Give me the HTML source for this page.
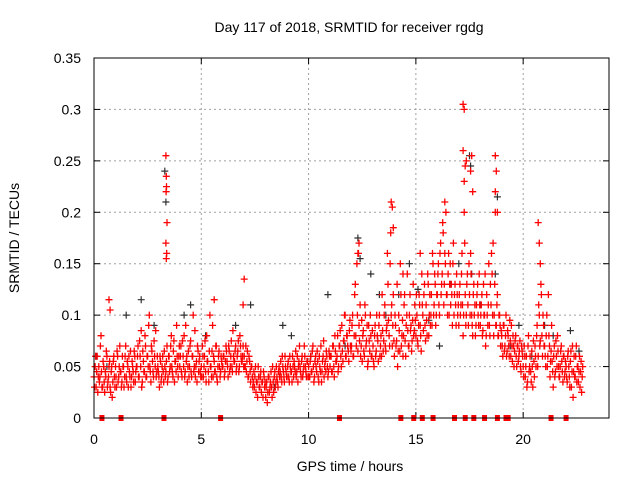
<!DOCTYPE html>
<html><head><meta charset="utf-8"><style>
html,body{margin:0;padding:0;background:#fff}
svg{display:block;font-family:"Liberation Sans",sans-serif}
</style></head><body>
<svg id="chart" width="640" height="480" xmlns="http://www.w3.org/2000/svg">
<rect x="0" y="0" width="640" height="480" fill="#fff"/>
<text x="349" y="32" font-size="14" text-anchor="middle">Day 117 of 2018, SRMTID for receiver rgdg</text>
<text x="350" y="471" font-size="14" text-anchor="middle">GPS time / hours</text>
<text x="0" y="0" font-size="14" text-anchor="middle" transform="translate(19,238) rotate(-90)">SRMTID / TECUs</text>
<g id="grid"></g>
<g id="ticks"></g>
<g id="marks"></g>
<rect x="94" y="58" width="515" height="360" fill="none" stroke="#000" stroke-width="1"/>
</svg>
<script>
const xTicks=[0,5,10,15,20];
const yTicks=[0,0.05,0.1,0.15,0.2,0.25,0.3,0.35];
const yTickLabels=["0","0.05","0.1","0.15","0.2","0.25","0.3","0.35"];
const seriesStart=0, seriesStep=0.05;
const redA=[
.04,.05,.03,.06,.04,.035,.07,.045,.03,.05,.025,.04,.06,.035,.05,.03,.045,.02,.055,.04,
.05,.03,.06,.04,.07,.045,.035,.05,.03,.06,.04,.055,.03,.045,.065,.04,.05,.035,.06,.045,
.05,.07,.04,.06,.085,.035,.055,.045,.07,.04,.06,.09,.05,.035,.065,.045,.075,.05,.04,.06,
.045,.03,.055,.04,.06,.035,.05,.045,.07,.04,.06,.05,.08,.045,.065,.035,.055,.09,.05,.06,
.05,.07,.04,.06,.08,.045,.055,.035,.065,.05,.075,.04,.06,.045,.085,.05,.035,.065,.055,.045,
.05,.07,.04,.06,.045,.08,.055,.035,.1,.05,.065,.04,.055,.045,.07,.035,.06,.05,.045,.055,
.05,.06,.045,.07,.055,.04,.065,.05,.075,.045,.06,.055,.07,.05,.065,.045,.08,.06,.055,.07,
.06,.05,.045,.065,.04,.055,.035,.05,.03,.045,.04,.025,.035,.05,.03,.04,.025,.035,.045,.03,
.02,.035,.025,.04,.03,.045,.02,.035,.04,.03,.05,.035,.045,.04,.055,.035,.05,.04,.06,.045,
.04,.055,.035,.05,.045,.06,.04,.05,.065,.045,.035,.055,.05,.04,.06,.045,.07,.05,.04,.055,
.05,.04,.06,.045,.07,.035,.055,.05,.065,.04,.06,.045,.035,.055,.075,.05,.045,.06,.04,.065,
.05,.06,.045,.07,.04,.065,.055,.08,.05,.07,.06,.09,.055,.075,.1,.06,.08,.065,.085,.07,
.07,.1,.06,.12,.08,.15,.065,.09,.11,.07,.055,.085,.06,.1,.075,.05,.09,.065,.08,.06,
.07,.05,.09,.065,.08,.055,.1,.07,.06,.085,.075,.11,.065,.09,.13,.08,.15,.1,.07,.12,
.06,.09,.075,.05,.1,.065,.12,.08,.06,.11,.075,.09,.14,.07,.1,.085,.065,.095,.08,.11,
.08,.1,.07,.12,.09,.065,.11,.085,.13,.075,.095,.14,.08,.12,.1,.09,.15,.11,.13,.1,
.12,.15,.1,.17,.13,.19,.11,.16,.2,.12,.14,.1,.15,.13,.09,.17,.12,.11,.14,.1,
.09,.13,.11,.16,.08,.2,.12,.1,.14,.09,.12,.16,.1,.08,.13,.11,.09,.12,.1,.14,
.09,.11,.08,.13,.1,.07,.12,.09,.15,.08,.11,.14,.17,.1,.2,.09,.12,.08,.1,.07,
.08,.06,.09,.07,.1,.065,.08,.06,.075,.09,.055,.07,.065,.08,.05,.07,.06,.075,.045,.065,
.05,.07,.04,.06,.035,.08,.05,.045,.065,.03,.055,.07,.05,.09,.06,.1,.075,.12,.06,.09,
.07,.05,.1,.06,.08,.04,.065,.055,.03,.07,.045,.06,.08,.05,.04,.065,.055,.035,.06,.045,
.05,.035,.065,.04,.055,.03,.07,.045,.04,.06,.035,.05,.045,.03,.055,.04];
const redB=[
.03,.06,.045,.025,.05,.04,.08,.03,.055,.035,.045,.065,.03,.04,.055,.025,.05,.035,.06,.03,
.04,.065,.035,.05,.045,.03,.06,.05,.04,.07,.035,.05,.06,.04,.03,.055,.045,.065,.035,.05,
.06,.04,.075,.05,.03,.065,.045,.08,.04,.06,.05,.1,.045,.07,.055,.04,.06,.085,.045,.05,
.04,.06,.035,.05,.045,.065,.04,.055,.035,.06,.045,.07,.05,.04,.075,.055,.045,.06,.04,.07,
.06,.045,.075,.05,.04,.09,.06,.05,.04,.07,.045,.06,.1,.05,.04,.055,.07,.045,.06,.04,
.04,.06,.05,.075,.035,.055,.045,.065,.05,.04,.09,.06,.045,.07,.04,.05,.065,.04,.06,.05,
.06,.04,.055,.065,.05,.07,.045,.06,.05,.085,.055,.065,.045,.06,.075,.05,.07,.055,.06,.05,
.05,.07,.055,.04,.06,.045,.05,.04,.035,.03,.05,.035,.02,.04,.03,.045,.035,.02,.04,.035,
.03,.015,.04,.025,.035,.03,.05,.025,.045,.035,.04,.03,.05,.045,.04,.06,.045,.035,.05,.04,
.05,.04,.06,.045,.035,.05,.055,.045,.04,.06,.05,.07,.045,.055,.04,.05,.06,.045,.055,.04,
.04,.055,.045,.065,.05,.04,.06,.045,.055,.035,.05,.07,.045,.06,.04,.055,.065,.05,.045,.06,
.06,.045,.07,.05,.08,.055,.06,.045,.07,.085,.05,.065,.075,.1,.06,.08,.07,.055,.095,.065,
.09,.06,.08,.13,.07,.1,.16,.075,.06,.095,.08,.065,.11,.07,.09,.055,.075,.1,.06,.085,
.055,.08,.06,.1,.075,.09,.06,.08,.12,.065,.1,.07,.085,.16,.095,.07,.18,.11,.09,.075,
.1,.07,.13,.065,.085,.15,.07,.095,.08,.12,.06,.1,.085,.07,.12,.09,.075,.13,.085,.095,
.12,.075,.09,.11,.08,.14,.1,.12,.09,.11,.08,.13,.1,.09,.12,.16,.1,.14,.09,.12,
.14,.11,.16,.12,.14,.18,.13,.15,.12,.1,.16,.13,.11,.12,.15,.1,.13,.09,.12,.11,
.12,.1,.14,.11,.1,.17,.09,.13,.11,.15,.1,.14,.09,.12,.1,.08,.11,.13,.09,.11,
.1,.12,.085,.1,.14,.08,.1,.11,.09,.13,.16,.1,.08,.13,.09,.11,.08,.1,.09,.085,
.07,.09,.065,.08,.06,.085,.07,.095,.06,.07,.08,.05,.075,.06,.07,.055,.065,.05,.07,.06,
.04,.06,.05,.03,.07,.045,.06,.035,.05,.075,.04,.06,.08,.05,.11,.07,.13,.08,.1,.07,
.06,.08,.05,.12,.07,.055,.09,.045,.06,.04,.075,.05,.065,.04,.05,.07,.045,.06,.04,.055,
.04,.06,.05,.03,.065,.045,.02,.06,.04,.07,.05,.035,.06,.045,.025,.05];
const outlierTimes=[3.35,3.37,3.36,3.38,3.4,3.35,3.37,3.39,7.0,6.95,12.35,12.3,13.85,13.9,13.95,16.35,17.2,17.25,17.2,17.3,17.35,17.25,17.6,17.55,17.65,18.7,18.75,18.7,18.8,20.7,20.75,20.8,0.7,0.75,5.6,15.2,14.4];
const outlierValues=[.255,.235,.22,.225,.19,.17,.155,.16,.135,.11,.17,.16,.21,.205,.185,.21,.305,.3,.26,.245,.25,.23,.255,.24,.22,.255,.24,.22,.2,.19,.17,.15,.115,.105,.115,.16,.14];
const blackTimes=[0.1,0.6,1.5,2.2,2.8,4.5,4.2,5.2,6.6,7.3,8.4,8.8,9.2,10.1,10.9,11.7,12.3,12.4,12.9,13.3,13.6,14.2,14.7,15.1,15.6,16.1,16.6,17.0,17.5,17.55,17.6,18.0,18.7,18.8,19.4,19.8,20.4,21.0,21.4,22.2,22.6,3.3,3.35];
const blackValues=[.06,.05,.1,.115,.09,.11,.1,.08,.09,.11,.03,.09,.08,.06,.12,.07,.175,.155,.14,.12,.1,.12,.15,.125,.095,.07,.13,.15,.255,.245,.14,.11,.14,.215,.07,.09,.06,.09,.08,.085,.065,.24,.21];
const gapTimes=[0.37,1.26,3.26,5.9,11.44,14.3,14.9,15.3,15.8,16.8,17.3,17.7,18.2,18.8,19.2,19.3,21.3,22.0];

const X0=94,X1=609,Y0=418,Y1=58,XMAX=24,YMAX=0.35;
const xs=t=>X0+(X1-X0)*t/XMAX;
const ys=v=>Y0-(Y0-Y1)*v/YMAX;
const NS="http://www.w3.org/2000/svg";
function mk(tag,attrs,parent){const e=document.createElementNS(NS,tag);for(const k in attrs)e.setAttribute(k,attrs[k]);parent.appendChild(e);return e;}
const grid=document.getElementById('grid'),ticks=document.getElementById('ticks'),marks=document.getElementById('marks');
xTicks.forEach(t=>{const x=xs(t);
 const g=mk('line',{x1:x,x2:x,y1:Y1,y2:Y0,stroke:'#a0a0a0','stroke-dasharray':'2,3'},grid);
 
 
 mk('line',{x1:x,x2:x,y1:Y0,y2:Y0-6,stroke:'#000'},ticks);
 mk('line',{x1:x,x2:x,y1:Y1,y2:Y1+6,stroke:'#000'},ticks);
 const l=mk('text',{x:x,y:444,'font-size':14,'text-anchor':'middle'},ticks);l.textContent=String(t);
 
 
});
yTicks.forEach((v,i)=>{const y=ys(v);
 const g=mk('line',{x1:X0,x2:X1,y1:y,y2:y,stroke:'#a0a0a0','stroke-dasharray':'2,3'},grid);
 
 
 mk('line',{x1:X0,x2:X0+6,y1:y,y2:y,stroke:'#000'},ticks);
 mk('line',{x1:X1,x2:X1-6,y1:y,y2:y,stroke:'#000'},ticks);
 const l=mk('text',{x:81,y:y+5,'font-size':14,'text-anchor':'end'},ticks);l.textContent=yTickLabels[i];
 
 
});
let dRed='',dBlack='';
const plus=(t,v)=>{const x=xs(t),y=ys(v);return `M${(x-3.5).toFixed(1)} ${y.toFixed(1)}h7M${x.toFixed(1)} ${(y-3.5).toFixed(1)}v7`;};
redA.forEach((v,i)=>{dRed+=plus(seriesStart+i*seriesStep,v);});
redB.forEach((v,i)=>{dRed+=plus(seriesStart+i*seriesStep+seriesStep/2,v);});
outlierTimes.forEach((t,i)=>{dRed+=plus(t,outlierValues[i]);});
blackTimes.forEach((t,i)=>{dBlack+=plus(t,blackValues[i]);});
const pb=mk('path',{d:dBlack,stroke:'#303030','stroke-width':1.2,fill:'none'},marks);


const pr=mk('path',{d:dRed,stroke:'#ff0000','stroke-width':1.3,fill:'none'},marks);


gapTimes.forEach(t=>{const r=mk('rect',{x:xs(t)-2.5,y:Y0-3,width:5,height:6,fill:'#ff0000'},marks);
 
 
});
</script>
</body></html>
